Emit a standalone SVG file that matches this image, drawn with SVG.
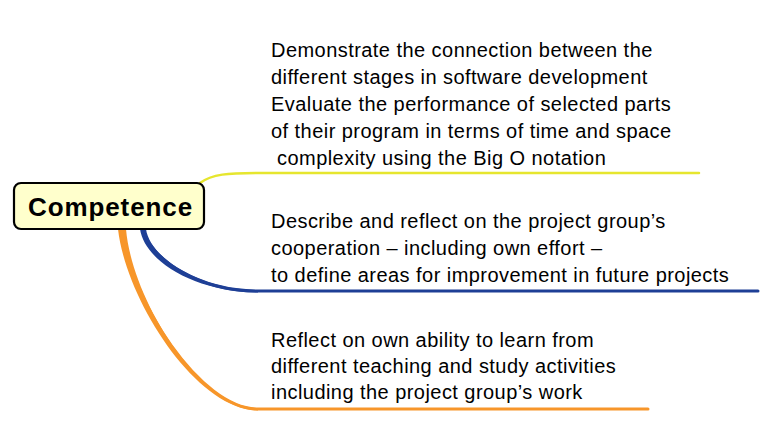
<svg xmlns="http://www.w3.org/2000/svg" width="770" height="435" viewBox="0 0 770 435">
<style>
.t{font-family:"Liberation Sans",Arial,sans-serif;font-size:20px;letter-spacing:0.45px;fill:#000}
.c{fill:none;stroke-linecap:round}
</style>
<rect width="770" height="435" fill="#fff"/>
<g id="connectors">
<path class="c" d="M200,183 C212,174 228,173 258,173 L699,173" stroke="#e6e62e" stroke-width="2.5"/>
<path class="c" d="M143,229 C150,260 200,291 258,291 L758,291" stroke="#1e3f96" stroke-width="3"/>
<path d="M140,229 L146,229 C150,258 200,290 258,290 L258,292.5 C196,292 145,262 140,229 Z" fill="#1e3f96"/>
<path class="c" d="M122,229 C130,300 200,409 258,409 L648,409" stroke="#f7962a" stroke-width="3"/>
<path d="M118,229 L126,229 C132,300 200,408 258,408 L258,410.5 C196,410 126,300 118,229 Z" fill="#f7962a"/>
</g>
<g id="competence">
<rect x="14" y="183" width="190" height="46" rx="7" fill="#ffffcc" stroke="#000" stroke-width="2.2"/>
<text x="28" y="216" font-family="Liberation Sans,Arial,sans-serif" font-size="26" font-weight="bold" letter-spacing="0.9">Competence</text>
</g>
<g id="topic1">
<text class="t" x="271" y="57">Demonstrate the connection between the</text>
<text class="t" x="271" y="84">different stages in software development</text>
<text class="t" x="271" y="111">Evaluate the performance of selected parts</text>
<text class="t" x="271" y="138">of their program in terms of time and space</text>
<text class="t" x="271" y="165" xml:space="preserve"> complexity using the Big O notation</text>
</g>
<g id="topic2">
<text class="t" x="271" y="228">Describe and reflect on the project group’s</text>
<text class="t" x="271" y="255">cooperation – including own effort –</text>
<text class="t" x="271" y="282">to define areas for improvement in future projects</text>
</g>
<g id="topic3">
<text class="t" x="271" y="347">Reflect on own ability to learn from</text>
<text class="t" x="271" y="373">different teaching and study activities</text>
<text class="t" x="271" y="399">including the project group’s work</text>
</g>
</svg>
